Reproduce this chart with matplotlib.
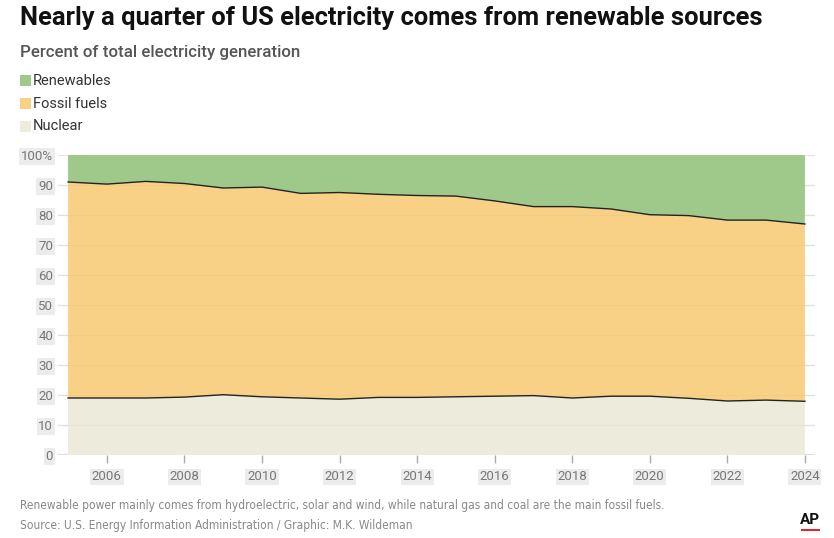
import numpy as np
import matplotlib.pyplot as plt
from matplotlib.patches import Rectangle

years = np.arange(2005, 2025)
# nuclear share (%)
nuclear = [19.0, 19.0, 19.0, 19.3, 20.1, 19.4, 19.0, 18.6, 19.2, 19.2,
           19.4, 19.6, 19.8, 19.0, 19.6, 19.6, 18.9, 18.0, 18.3, 17.9]
# nuclear + fossil (top of fossil band)
nuc_fossil = [91.0, 90.3, 91.2, 90.5, 89.0, 89.3, 87.2, 87.5, 86.9, 86.5,
              86.3, 84.7, 82.8, 82.8, 82.0, 80.1, 79.8, 78.3, 78.3, 77.0]
fossil = [a - b for a, b in zip(nuc_fossil, nuclear)]
renewables = [100 - a for a in nuc_fossil]

yticks = [0, 10, 20, 30, 40, 50, 60, 70, 80, 90, 100]
ylabels = ['0', '10', '20', '30', '40', '50', '60', '70', '80', '90', '100%']
xticks = [2006, 2008, 2010, 2012, 2014, 2016, 2018, 2020, 2022, 2024]

c_ren = '#9fc98a'
c_fos = '#f8d186'
c_nuc = '#ecebdc'
gray = '#777777'

plt.rcParams['font.family'] = ['Roboto', 'DejaVu Sans']

fig = plt.figure(figsize=(8.34, 5.38), dpi=100)
ax = fig.add_axes([58/834, 1 - 455/538, (815 - 58)/834, 300/538])

ax.stackplot(years, nuclear, fossil, renewables,
             colors=[c_nuc, c_fos, c_ren], linewidth=0, zorder=2)
ax.plot(years, nuclear, color='#222222', lw=1.0, zorder=4)
ax.plot(years, nuc_fossil, color='#222222', lw=1.0, zorder=4)

ax.set_xlim(2004.74, 2024.26)
ax.set_ylim(0, 100)
ax.set_yticks(yticks)
ax.set_yticklabels(ylabels)
ax.set_xticks(xticks)
ax.set_xticklabels([str(x) for x in xticks])
for s in ax.spines.values():
    s.set_visible(False)
ax.set_axisbelow(True)
ax.grid(axis='y', color='#e6e6e6', lw=1)
ax.axhline(0, color='#dddddd', lw=1.5, zorder=1)
ax.tick_params(axis='y', length=0, pad=3.5, labelsize=9.5, labelcolor=gray)
ax.tick_params(axis='x', length=6, width=1, color='#aaaaaa', pad=5,
               labelsize=9.5, labelcolor=gray)
for lab in ax.get_yticklabels() + ax.get_xticklabels():
    lab.set_bbox(dict(facecolor='#ececec', edgecolor='none', pad=1.2))

# faint grid visible through the fills
for y in yticks[1:-1]:
    ax.axhline(y, color='#c8b070', lw=0.6, alpha=0.15, zorder=3)

fig.text(20/834, 1 - 18/538, 'Nearly a quarter of US electricity comes from renewable sources',
         fontsize=18.4, fontweight='bold', color='#111111', va='center')
fig.text(20/834, 1 - 52/538, 'Percent of total electricity generation',
         fontsize=12.2, fontweight='medium', color='#555555', va='center')

items = [('Renewables', c_ren), ('Fossil fuels', c_fos), ('Nuclear', c_nuc)]
for i, (name, col) in enumerate(items):
    yc = 81 + i * 22.5
    fig.patches.append(Rectangle((20/834, 1 - (yc + 5.5)/538), 11/834, 11/538,
                                 transform=fig.transFigure, facecolor=col,
                                 edgecolor='none'))
    fig.text(33/834, 1 - yc/538, name, fontsize=10.5, color='#333333', va='center')

foot = dict(fontsize=8.6, color='#888888', va='center', family='DejaVu Sans',
            fontstretch='condensed')
fig.text(20/834, 1 - 505/538,
         'Renewable power mainly comes from hydroelectric, solar and wind, while natural gas and coal are the main fossil fuels.',
         **foot)
fig.text(20/834, 1 - 526/538,
         'Source: U.S. Energy Information Administration / Graphic: M.K. Wildeman',
         **foot)
fig.text(810/834, 1 - 520/538, 'AP', fontsize=11, fontweight='bold',
         color='#111111', ha='center', va='center')
fig.patches.append(Rectangle((801/834, 1 - 531/538), 19/834, 2/538,
                             transform=fig.transFigure, facecolor='#e8232a',
                             edgecolor='none'))

fig.savefig('out.png', dpi=100)
